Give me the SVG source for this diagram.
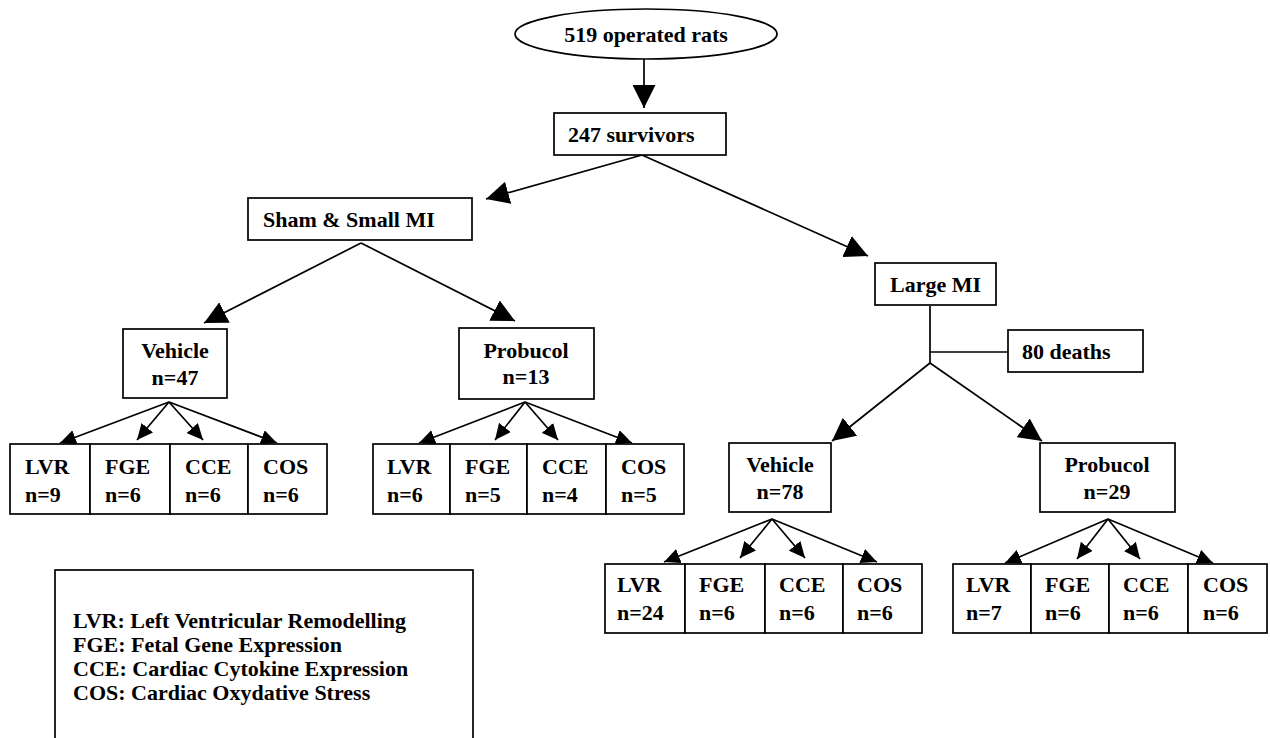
<svg xmlns="http://www.w3.org/2000/svg" width="1270" height="738" viewBox="0 0 1270 738">
<style>
.box{fill:#fff;stroke:#000;stroke-width:1.7}
.t{font-family:"Liberation Serif","Times New Roman",serif;font-weight:bold;font-size:22px;fill:#000}
.c{text-anchor:middle}
.ln{stroke:#000;stroke-width:1.7;fill:none}
.big{marker-end:url(#ah)}
.sm{marker-end:url(#as)}
</style>
<defs>
<marker id="ah" markerUnits="userSpaceOnUse" viewBox="0 0 23 23" refX="23" refY="11.5" markerWidth="23" markerHeight="23" orient="auto"><path d="M0,0 L23,11.5 L0,23 z" fill="#000"/></marker>
<marker id="as" markerUnits="userSpaceOnUse" viewBox="0 0 16 15" refX="16" refY="7.5" markerWidth="16" markerHeight="15" orient="auto"><path d="M0,0 L16,7.5 L0,15 z" fill="#000"/></marker>
</defs>
<rect width="1270" height="738" fill="#fff"/>

<g id="connectors">
<line class="ln big" x1="644" y1="59" x2="644" y2="108"/>
<line class="ln big" x1="642" y1="155" x2="486" y2="199"/>
<line class="ln big" x1="642" y1="155" x2="868" y2="256"/>
<line class="ln big" x1="361" y1="243" x2="204" y2="323"/>
<line class="ln big" x1="361" y1="243" x2="515" y2="321"/>
<line class="ln" x1="930" y1="306" x2="930" y2="363"/>
<line class="ln" x1="930" y1="352" x2="1008" y2="352"/>
<line class="ln big" x1="930" y1="363" x2="832" y2="441"/>
<line class="ln big" x1="930" y1="363" x2="1042" y2="441"/>
<line class="ln sm" x1="169" y1="402" x2="60" y2="443"/>
<line class="ln sm" x1="169" y1="402" x2="137" y2="440"/>
<line class="ln sm" x1="169" y1="402" x2="203" y2="440"/>
<line class="ln sm" x1="169" y1="402" x2="277" y2="443"/>
<line class="ln sm" x1="525" y1="402" x2="419" y2="443"/>
<line class="ln sm" x1="525" y1="402" x2="495" y2="440"/>
<line class="ln sm" x1="525" y1="402" x2="558" y2="440"/>
<line class="ln sm" x1="525" y1="402" x2="632" y2="443"/>
<line class="ln sm" x1="772" y1="519" x2="664" y2="562"/>
<line class="ln sm" x1="772" y1="519" x2="740" y2="558"/>
<line class="ln sm" x1="772" y1="519" x2="805" y2="558"/>
<line class="ln sm" x1="772" y1="519" x2="877" y2="562"/>
<line class="ln sm" x1="1108" y1="519" x2="1005" y2="563"/>
<line class="ln sm" x1="1108" y1="519" x2="1077" y2="559"/>
<line class="ln sm" x1="1108" y1="519" x2="1140" y2="559"/>
<line class="ln sm" x1="1108" y1="519" x2="1213" y2="563"/>
</g>

<g id="n-operated">
<ellipse class="box" cx="646" cy="34" rx="131" ry="25"/>
<text class="t c" x="646" y="42">519 operated rats</text>
</g>
<g id="n-survivors">
<rect class="box" x="554" y="113" width="172" height="42"/>
<text class="t" x="568" y="142">247 survivors</text>
</g>
<g id="n-sham">
<rect class="box" x="248" y="198" width="224" height="42"/>
<text class="t" x="263" y="227">Sham &amp; Small MI</text>
</g>
<g id="n-large">
<rect class="box" x="875" y="263" width="121" height="42"/>
<text class="t" x="890" y="292">Large MI</text>
</g>
<g id="n-deaths">
<rect class="box" x="1008" y="330" width="135" height="42"/>
<text class="t" x="1022" y="359">80 deaths</text>
</g>
<g id="n-veh47">
<rect class="box" x="123" y="329" width="104" height="69"/>
<text class="t c" x="175" y="358">Vehicle</text>
<text class="t c" x="175" y="385">n=47</text>
</g>
<g id="n-pro13">
<rect class="box" x="459" y="328" width="135" height="71"/>
<text class="t c" x="526" y="358">Probucol</text>
<text class="t c" x="526" y="384">n=13</text>
</g>
<g id="n-veh78">
<rect class="box" x="729" y="443" width="102" height="69"/>
<text class="t c" x="780" y="472">Vehicle</text>
<text class="t c" x="780" y="499">n=78</text>
</g>
<g id="n-pro29">
<rect class="box" x="1040" y="443" width="135" height="69"/>
<text class="t c" x="1107" y="472">Probucol</text>
<text class="t c" x="1107" y="499">n=29</text>
</g>

<g id="a-lvr"><rect class="box" x="10" y="444" width="80" height="70"/><text class="t" x="25" y="474">LVR</text><text class="t" x="25" y="502">n=9</text></g>
<g id="a-fge"><rect class="box" x="90" y="444" width="80" height="70"/><text class="t" x="105" y="474">FGE</text><text class="t" x="105" y="502">n=6</text></g>
<g id="a-cce"><rect class="box" x="170" y="444" width="78" height="70"/><text class="t" x="185" y="474">CCE</text><text class="t" x="185" y="502">n=6</text></g>
<g id="a-cos"><rect class="box" x="248" y="444" width="79" height="70"/><text class="t" x="263" y="474">COS</text><text class="t" x="263" y="502">n=6</text></g>

<g id="b-lvr"><rect class="box" x="373" y="444" width="77" height="70"/><text class="t" x="387" y="474">LVR</text><text class="t" x="387" y="502">n=6</text></g>
<g id="b-fge"><rect class="box" x="450" y="444" width="77" height="70"/><text class="t" x="465" y="474">FGE</text><text class="t" x="465" y="502">n=5</text></g>
<g id="b-cce"><rect class="box" x="527" y="444" width="79" height="70"/><text class="t" x="542" y="474">CCE</text><text class="t" x="542" y="502">n=4</text></g>
<g id="b-cos"><rect class="box" x="606" y="444" width="78" height="70"/><text class="t" x="621" y="474">COS</text><text class="t" x="621" y="502">n=5</text></g>

<g id="c-lvr"><rect class="box" x="605" y="564" width="80" height="69"/><text class="t" x="617" y="592">LVR</text><text class="t" x="617" y="620">n=24</text></g>
<g id="c-fge"><rect class="box" x="685" y="564" width="80" height="69"/><text class="t" x="699" y="592">FGE</text><text class="t" x="699" y="620">n=6</text></g>
<g id="c-cce"><rect class="box" x="765" y="564" width="78" height="69"/><text class="t" x="779" y="592">CCE</text><text class="t" x="779" y="620">n=6</text></g>
<g id="c-cos"><rect class="box" x="843" y="564" width="79" height="69"/><text class="t" x="857" y="592">COS</text><text class="t" x="857" y="620">n=6</text></g>

<g id="d-lvr"><rect class="box" x="953" y="564" width="78" height="69"/><text class="t" x="966" y="592">LVR</text><text class="t" x="966" y="620">n=7</text></g>
<g id="d-fge"><rect class="box" x="1031" y="564" width="78" height="69"/><text class="t" x="1045" y="592">FGE</text><text class="t" x="1045" y="620">n=6</text></g>
<g id="d-cce"><rect class="box" x="1109" y="564" width="79" height="69"/><text class="t" x="1123" y="592">CCE</text><text class="t" x="1123" y="620">n=6</text></g>
<g id="d-cos"><rect class="box" x="1188" y="564" width="79" height="69"/><text class="t" x="1203" y="592">COS</text><text class="t" x="1203" y="620">n=6</text></g>

<g id="legend">
<rect class="box" x="55" y="570" width="418" height="175"/>
<text class="t" x="73" y="628">LVR: Left Ventricular Remodelling</text>
<text class="t" x="73" y="652">FGE: Fetal Gene Expression</text>
<text class="t" x="73" y="676">CCE: Cardiac Cytokine Expression</text>
<text class="t" x="73" y="700">COS: Cardiac Oxydative Stress</text>
</g>
</svg>
